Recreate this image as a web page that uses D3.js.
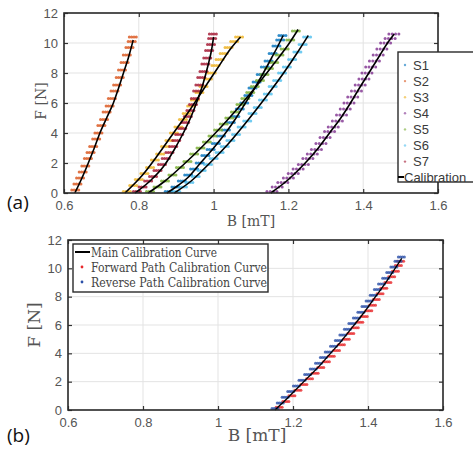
<!DOCTYPE html>
<html>
<head>
<meta charset="utf-8">
<script src="https://cdn.jsdelivr.net/npm/d3@7"></script>
<style>
  body { margin: 0; background: #fff; }
  svg { display: block; }
</style>
</head>
<body>
<div id="chart"></div>
<script>
// ---- data ----
let xTicks = [0.6, 0.8, 1, 1.2, 1.4, 1.6];
let yTicks = [0, 2, 4, 6, 8, 10, 12];
let seriesNames = ["S1", "S2", "S3", "S4", "S5", "S6", "S7"];
let seriesColors = ["#0072BD", "#D95319", "#EDB120", "#7E2F8E", "#77AC30", "#4DBEEE", "#A2142F"];

// calibration curves (B in mT, F in N)
let calS1 = [[0.875,0],[0.905,0.5],[0.93,1],[0.965,2],[1.0,3],[1.032,4],[1.06,5],[1.085,6],[1.11,7],[1.133,8],[1.155,9],[1.172,9.8],[1.186,10.5]];
let calS2 = [[0.629,0],[0.648,1],[0.665,2],[0.681,3],[0.696,4],[0.714,5],[0.732,6],[0.746,7],[0.759,8],[0.772,9],[0.785,10.2]];
let calS3 = [[0.763,0],[0.81,1.2],[0.85,2.5],[0.89,3.9],[0.93,5.3],[0.97,6.8],[1.01,8.3],[1.045,9.6],[1.072,10.4]];
let calS4 = [[1.153,0],[1.2,0.9],[1.245,2.0],[1.28,3.0],[1.31,4.0],[1.34,5.0],[1.366,6.0],[1.39,7.0],[1.415,8.0],[1.44,9.0],[1.465,10.0],[1.483,10.6]];
let calS5 = [[0.825,0],[0.87,0.8],[0.92,1.9],[0.97,3.1],[1.02,4.4],[1.07,5.8],[1.12,7.3],[1.17,8.9],[1.2,9.9],[1.226,10.9]];
let calS6 = [[0.895,0],[0.94,0.8],[0.99,2.0],[1.04,3.3],[1.09,4.8],[1.14,6.4],[1.19,8.1],[1.225,9.4],[1.253,10.5]];
let calS7 = [[0.79,0],[0.83,0.8],[0.866,1.76],[0.895,2.9],[0.919,4],[0.94,5.1],[0.957,6.2],[0.972,7.3],[0.985,8.5],[0.995,9.6],[1.0,10.4]];

// measured points
let ptsS1 = [[0.88,0.1],[0.898,0.4],[0.915,0.8],[0.932,1.2],[0.948,1.6],[0.963,2.0],[0.978,2.5],[0.992,2.9],[1.006,3.3],[1.02,3.8],[1.033,4.2],[1.046,4.7],[1.058,5.1],[1.07,5.6],[1.082,6.0],[1.093,6.5],[1.104,7.0],[1.115,7.4],[1.126,7.9],[1.137,8.4],[1.147,8.8],[1.158,9.3],[1.168,9.8],[1.178,10.2],[1.184,10.5]];
let ptsS2 = [[0.630,0.2],[0.636,0.6],[0.643,1.0],[0.650,1.4],[0.657,1.8],[0.664,2.3],[0.671,2.7],[0.678,3.1],[0.686,3.6],[0.692,4.0],[0.700,4.5],[0.707,4.9],[0.714,5.4],[0.722,5.8],[0.728,6.3],[0.735,6.8],[0.742,7.2],[0.749,7.7],[0.755,8.2],[0.762,8.7],[0.768,9.2],[0.775,9.7],[0.781,10.1],[0.784,10.4]];
let ptsS3 = [[0.768,0.1],[0.785,0.5],[0.80,0.9],[0.815,1.3],[0.83,1.7],[0.843,2.2],[0.857,2.6],[0.87,3.1],[0.882,3.5],[0.894,4.0],[0.906,4.4],[0.918,4.9],[0.928,5.3],[0.94,5.8],[0.95,6.2],[0.962,6.7],[0.973,7.1],[0.985,7.6],[0.995,8.0],[1.005,8.5],[1.016,8.9],[1.027,9.3],[1.04,9.7],[1.055,10.1],[1.068,10.4]];
let ptsS4 = [[1.156,0.1],[1.17,0.4],[1.185,0.7],[1.20,1.0],[1.213,1.3],[1.226,1.6],[1.24,1.9],[1.252,2.3],[1.264,2.6],[1.275,2.9],[1.287,3.3],[1.298,3.7],[1.31,4.1],[1.32,4.4],[1.331,4.8],[1.342,5.2],[1.352,5.6],[1.362,6.0],[1.372,6.4],[1.382,6.8],[1.392,7.2],[1.402,7.6],[1.41,8.0],[1.42,8.4],[1.43,8.8],[1.44,9.2],[1.45,9.6],[1.46,10.0],[1.472,10.3],[1.482,10.6]];
let ptsS5 = [[0.83,0.1],[0.85,0.4],[0.87,0.8],[0.89,1.2],[0.91,1.7],[0.93,2.1],[0.948,2.6],[0.965,3.0],[0.982,3.4],[0.997,3.8],[1.012,4.2],[1.027,4.6],[1.042,5.0],[1.057,5.4],[1.072,5.9],[1.085,6.3],[1.098,6.7],[1.11,7.1],[1.124,7.5],[1.136,7.9],[1.148,8.3],[1.162,8.7],[1.176,9.2],[1.19,9.6],[1.205,10.2],[1.22,10.8]];
let ptsS6 = [[0.90,0.1],[0.918,0.4],[0.935,0.7],[0.952,1.1],[0.968,1.5],[0.985,1.9],[1.0,2.3],[1.016,2.7],[1.03,3.1],[1.045,3.5],[1.06,3.9],[1.075,4.4],[1.09,4.8],[1.104,5.3],[1.118,5.7],[1.132,6.2],[1.145,6.6],[1.158,7.1],[1.17,7.5],[1.183,8.0],[1.196,8.4],[1.21,8.9],[1.224,9.4],[1.238,9.9],[1.25,10.4]];
let ptsS7 = [[0.795,0.1],[0.81,0.4],[0.825,0.8],[0.838,1.1],[0.85,1.5],[0.862,1.9],[0.872,2.3],[0.882,2.7],[0.892,3.1],[0.90,3.5],[0.908,3.9],[0.916,4.3],[0.924,4.7],[0.931,5.1],[0.938,5.5],[0.945,5.9],[0.95,6.3],[0.956,6.8],[0.962,7.2],[0.967,7.7],[0.973,8.1],[0.978,8.6],[0.983,9.0],[0.988,9.5],[0.993,9.9],[0.996,10.3],[0.998,10.6]];

// panel (b)
let mainCal = [[1.152,0],[1.18,0.7],[1.21,1.5],[1.24,2.3],[1.27,3.1],[1.30,4.0],[1.33,4.9],[1.36,5.9],[1.39,6.9],[1.42,8.0],[1.45,9.1],[1.475,10.1],[1.49,10.7]];
let forwardPts = [[1.163,0.2],[1.181,0.6],[1.197,1.0],[1.213,1.4],[1.229,1.8],[1.244,2.2],[1.259,2.6],[1.274,3.0],[1.289,3.4],[1.302,3.8],[1.316,4.2],[1.329,4.6],[1.342,5.0],[1.354,5.4],[1.366,5.8],[1.378,6.2],[1.39,6.6],[1.402,7.0],[1.412,7.4],[1.422,7.8],[1.432,8.2],[1.442,8.6],[1.453,9.0],[1.463,9.4],[1.473,9.8],[1.481,10.2],[1.487,10.5]];
let reversePts = [[1.152,0.1],[1.166,0.5],[1.179,0.9],[1.194,1.3],[1.209,1.7],[1.224,2.1],[1.239,2.5],[1.254,2.9],[1.268,3.3],[1.281,3.7],[1.294,4.1],[1.308,4.5],[1.321,4.9],[1.333,5.3],[1.345,5.7],[1.357,6.1],[1.369,6.5],[1.381,6.9],[1.392,7.3],[1.403,7.7],[1.414,8.1],[1.425,8.5],[1.436,8.9],[1.447,9.3],[1.458,9.7],[1.469,10.1],[1.48,10.5],[1.489,10.8]];
let legendB = ["Main Calibration Curve", "Forward Path Calibration Curve", "Reverse Path Calibration Curve"];

let calCurves = [calS1, calS2, calS3, calS4, calS5, calS6, calS7];
let measured = [ptsS1, ptsS2, ptsS3, ptsS4, ptsS5, ptsS6, ptsS7];

// ---- drawing ----
const W = 473, H = 454;
const svg = d3.select("#chart").append("svg").attr("width", W).attr("height", H);
const sans = "'Liberation Sans', Arial, sans-serif";
const serif = "'DejaVu Serif', 'Liberation Serif', serif";

function panel(box) {
  let x = d3.scaleLinear().domain([0.6, 1.6]).range([box.l, box.r]);
  let y = d3.scaleLinear().domain([0, 12]).range([box.b, box.t]);
  let g = svg.append("g");
  // grid
  g.selectAll(".gx").data(xTicks).join("line")
    .attr("x1", d => x(d)).attr("x2", d => x(d)).attr("y1", box.t).attr("y2", box.b)
    .attr("stroke", "#e3e3e3").attr("stroke-width", 1);
  g.selectAll(".gy").data(yTicks).join("line")
    .attr("y1", d => y(d)).attr("y2", d => y(d)).attr("x1", box.l).attr("x2", box.r)
    .attr("stroke", "#e3e3e3").attr("stroke-width", 1);
  // axes, ticks pointing inward on all four sides
  let axB = d3.axisBottom(x).tickValues(xTicks).tickSize(-4).tickPadding(8).tickFormat(d3.format("~g"));
  let axL = d3.axisLeft(y).tickValues(yTicks).tickSize(-4).tickPadding(6);
  let axT = d3.axisTop(x).tickValues(xTicks).tickSize(-4).tickFormat("");
  let axR = d3.axisRight(y).tickValues(yTicks).tickSize(-4).tickFormat("");
  let a1 = g.append("g").attr("transform", `translate(0,${box.b})`).call(axB);
  let a2 = g.append("g").attr("transform", `translate(${box.l},0)`).call(axL);
  let a3 = g.append("g").attr("transform", `translate(0,${box.t})`).call(axT);
  let a4 = g.append("g").attr("transform", `translate(${box.r},0)`).call(axR);
  [a1, a2, a3, a4].forEach(a => {
    a.select(".domain").remove();
    a.selectAll("line").attr("stroke", "#333").attr("stroke-width", 1.2);
    a.selectAll("text").attr("fill", "#555").style("font-family", sans).style("font-size", "13px");
  });
  let plot = svg.append("g");
  svg.append("rect").attr("x", box.l).attr("y", box.t)
    .attr("width", box.r - box.l).attr("height", box.b - box.t)
    .attr("fill", "none").attr("stroke", "#2a2a2a").attr("stroke-width", 1.6);
  return { x, y, g: plot };
}

// each measured point is shown as a small horizontal cluster of dots
function dots(p, pts, color, spread) {
  let offs = [-spread, -spread / 3, spread / 3, spread];
  let g = p.g.append("g").attr("fill", color).attr("fill-opacity", 0.8);
  pts.forEach(d => {
    offs.forEach(o => {
      g.append("circle").attr("cx", p.x(d[0]) + o).attr("cy", p.y(d[1])).attr("r", 1.5);
    });
  });
}

function curve(p, pts, width) {
  let line = d3.line().x(d => p.x(d[0])).y(d => p.y(d[1])).curve(d3.curveMonotoneX);
  p.g.append("path").attr("d", line(pts)).attr("fill", "none")
    .attr("stroke", "#000").attr("stroke-width", width);
}

// panel (a)
let pa = panel({ l: 64, r: 438, t: 13, b: 193 });
measured.forEach((pts, i) => dots(pa, pts, seriesColors[i], i === 3 ? 5 : 3.5));
calCurves.forEach(c => curve(pa, c, 1.6));

// legend (a)
let la = svg.append("g");
la.append("rect").attr("x", 398).attr("y", 52).attr("width", 90).attr("height", 130)
  .attr("fill", "#fff").attr("stroke", "#2a2a2a").attr("stroke-width", 1.4);
seriesNames.forEach((n, i) => {
  let yy = 65 + i * 16.1;
  la.append("circle").attr("cx", 405).attr("cy", yy).attr("r", 1.2).attr("fill", seriesColors[i]).attr("opacity", 0.6);
  la.append("text").attr("x", 413).attr("y", yy).attr("dy", "0.36em").text(n)
    .style("font-family", sans).style("font-size", "13px").attr("fill", "#3a3a3a");
});
la.append("line").attr("x1", 398).attr("x2", 404).attr("y1", 177).attr("y2", 177).attr("stroke", "#000").attr("stroke-width", 2);
la.append("text").attr("x", 404).attr("y", 177).attr("dy", "0.36em").text("Calibration")
  .style("font-family", sans).style("font-size", "13px").attr("fill", "#3a3a3a");

svg.append("text").attr("x", 251).attr("y", 226).attr("text-anchor", "middle").text("B [mT]")
  .style("font-family", serif).style("font-size", "14px").attr("fill", "#555");
svg.append("text").attr("transform", "translate(46,101) rotate(-90)").attr("text-anchor", "middle").text("F [N]")
  .style("font-family", serif).style("font-size", "14px").attr("fill", "#555");
svg.append("text").attr("x", 7).attr("y", 209).text("(a)")
  .style("font-family", "'Open Sans', sans-serif").style("font-size", "19px").attr("fill", "#111");

// panel (b)
let pb = panel({ l: 68, r: 443, t: 240, b: 410 });
dots(pb, forwardPts, "#e8282b", 3);
dots(pb, reversePts, "#2a4fa8", 3);
curve(pb, mainCal, 1.3);

let lb = svg.append("g");
lb.append("rect").attr("x", 73).attr("y", 244).attr("width", 195).attr("height", 48)
  .attr("fill", "#fff").attr("stroke", "#2a2a2a").attr("stroke-width", 1.4);
lb.append("line").attr("x1", 75).attr("x2", 90).attr("y1", 252).attr("y2", 252).attr("stroke", "#000").attr("stroke-width", 2);
lb.append("circle").attr("cx", 82).attr("cy", 267).attr("r", 1.4).attr("fill", "#e8282b");
lb.append("circle").attr("cx", 82).attr("cy", 282).attr("r", 1.4).attr("fill", "#2a4fa8");
legendB.forEach((t, i) => {
  lb.append("text").attr("x", 91).attr("y", 252 + i * 15).attr("dy", "0.35em").text(t)
    .attr("textLength", i === 0 ? 126 : 176).attr("lengthAdjust", "spacingAndGlyphs")
    .style("font-family", serif).style("font-size", "13px").attr("fill", "#444");
});

svg.append("text").attr("x", 257).attr("y", 441).attr("text-anchor", "middle").text("B [mT]")
  .style("font-family", serif).style("font-size", "17px").attr("fill", "#555");
svg.append("text").attr("transform", "translate(40,325) rotate(-90)").attr("text-anchor", "middle").text("F [N]")
  .style("font-family", serif).style("font-size", "17px").attr("fill", "#555");
svg.append("text").attr("x", 7).attr("y", 442).text("(b)")
  .style("font-family", "'Open Sans', sans-serif").style("font-size", "19px").attr("fill", "#111");
</script>
</body>
</html>
